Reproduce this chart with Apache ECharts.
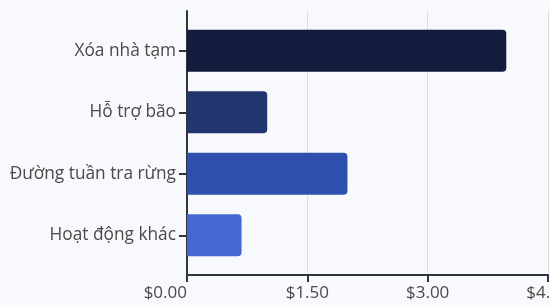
<!DOCTYPE html>
<html>
<head>
<meta charset="utf-8">
<script src="https://cdn.jsdelivr.net/npm/echarts@6/dist/echarts.min.js"></script>
<style>
    html, body { margin: 0; padding: 0; background: #f8f9fc; }
    #chart { width: 550px; height: 307px; }
</style>
</head>
<body>
<div id="chart"></div>
<script>
    var categories = ['Xóa nhà tạm', 'Hỗ trợ bão', 'Đường tuần tra rừng', 'Hoạt động khác'];
    var amounts = [3.98, 1.0, 2.0, 0.68];
    var xTicks = { min: 0, max: 4.5, interval: 1.5 };

    var barColors = ['#121d3e', '#22356f', '#2e4fad', '#4667d1'];
    var font = '"Open Sans", "Noto Sans", sans-serif';

    var chart = echarts.init(document.getElementById('chart'), null, {renderer: 'canvas'});

    chart.setOption({
        backgroundColor: '#f8f9fc',
        animation: false,
        grid: [
            // frame: axis lines, split lines, x labels
            {left: 187, right: 2, top: 11, bottom: 32, outerBoundsMode: 'none'},
            // bars sit inside a slightly padded band
            {left: 187, right: 2, top: 20, bottom: 41, outerBoundsMode: 'none'}
        ],
        xAxis: [{
            gridIndex: 0,
            type: 'value',
            min: xTicks.min,
            max: xTicks.max,
            interval: xTicks.interval,
            axisLine: {show: true, lineStyle: {color: '#2f343d', width: 2}},
            axisTick: {show: true, length: 7, lineStyle: {color: '#2f343d', width: 2}},
            axisLabel: {
                color: '#4a4a4a',
                fontFamily: font,
                fontSize: 17,
                margin: 10,
                alignMinLabel: 'right',
                formatter: function (v) { return '$' + v.toFixed(2); }
            },
            splitLine: {show: true, lineStyle: {color: '#dadce2', width: 1}}
        }, {
            gridIndex: 1,
            type: 'value',
            min: xTicks.min,
            max: xTicks.max,
            show: false
        }],
        yAxis: [{
            gridIndex: 0,
            type: 'value',
            axisLine: {show: true, lineStyle: {color: '#2f343d', width: 2}},
            axisTick: {show: false},
            axisLabel: {show: false},
            splitLine: {show: false}
        }, {
            gridIndex: 1,
            type: 'category',
            inverse: true,
            data: categories,
            axisLine: {show: false},
            axisTick: {show: true, alignWithLabel: true, length: 8, lineStyle: {color: '#2f343d', width: 2}},
            axisLabel: {color: '#4a4a4a', fontFamily: font, fontSize: 17.3, margin: 11}
        }],
        series: [{
            type: 'bar',
            xAxisIndex: 1,
            yAxisIndex: 1,
            data: amounts,
            barCategoryGap: '32%',
            itemStyle: {
                color: function (p) { return barColors[p.dataIndex]; },
                borderRadius: [0, 4, 4, 0]
            }
        }]
    });
</script>
</body>
</html>
